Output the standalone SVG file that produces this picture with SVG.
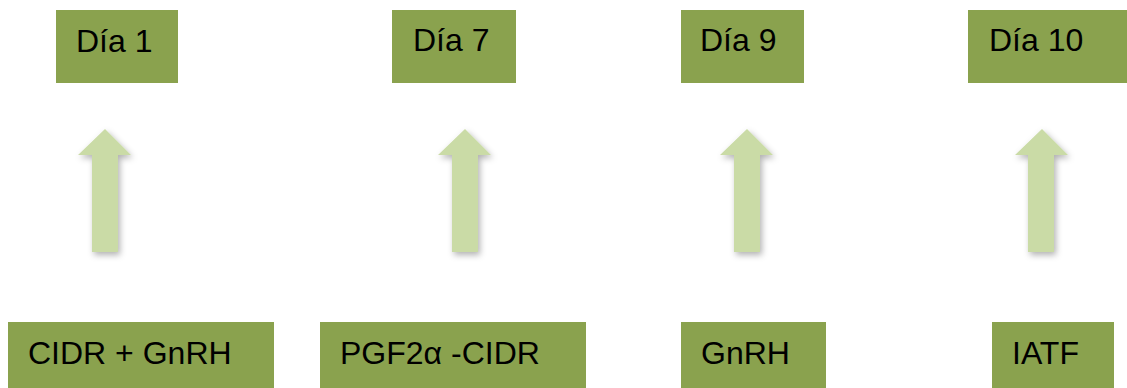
<svg xmlns="http://www.w3.org/2000/svg" width="1127" height="388" viewBox="0 0 1127 388">
<style>
.box{fill:#8aa24e}
.lbl{font-family:"Liberation Sans",Arial,sans-serif;font-size:32px;fill:#000}
.arr{fill:#cadba6;filter:url(#sh)}
</style>
<defs>
<filter id="sh" x="-50%" y="-20%" width="200%" height="150%">
<feDropShadow dx="2" dy="3" stdDeviation="3" flood-color="#000" flood-opacity="0.3"/>
</filter>
</defs>
<rect width="1127" height="388" fill="#fff"/>
<g id="dia1"><rect class="box" x="56" y="10" width="122" height="73"/><text class="lbl" x="76" y="52">Día 1</text></g>
<g id="dia7"><rect class="box" x="392" y="10" width="124" height="73"/><text class="lbl" x="413" y="51">Día 7</text></g>
<g id="dia9"><rect class="box" x="681" y="10" width="123" height="73"/><text class="lbl" x="700" y="51">Día 9</text></g>
<g id="dia10"><rect class="box" x="968" y="10" width="159" height="73"/><text class="lbl" x="989" y="51">Día 10</text></g>
<g id="cidr"><rect class="box" x="8" y="322" width="266" height="66"/><text class="lbl" x="28" y="364">CIDR + GnRH</text></g>
<g id="pgf"><rect class="box" x="320" y="322" width="266" height="66"/><text class="lbl" x="340" y="364">PGF2α -CIDR</text></g>
<g id="gnrh"><rect class="box" x="681" y="322" width="145" height="66"/><text class="lbl" x="701" y="364">GnRH</text></g>
<g id="iatf"><rect class="box" x="992" y="322" width="122" height="66"/><text class="lbl" x="1012" y="364">IATF</text></g>
<g id="connectors">
<polygon class="arr" points="105,129 131,155 118,155 118,252 92,252 92,155 78,155"/>
<polygon class="arr" points="465,129 491,155 478,155 478,252 452,252 452,155 438,155"/>
<polygon class="arr" points="747,129 773,155 760,155 760,252 734,252 734,155 720,155"/>
<polygon class="arr" points="1042,129 1068,155 1054,155 1054,252 1028,252 1028,155 1015,155"/>
</g>
</svg>
